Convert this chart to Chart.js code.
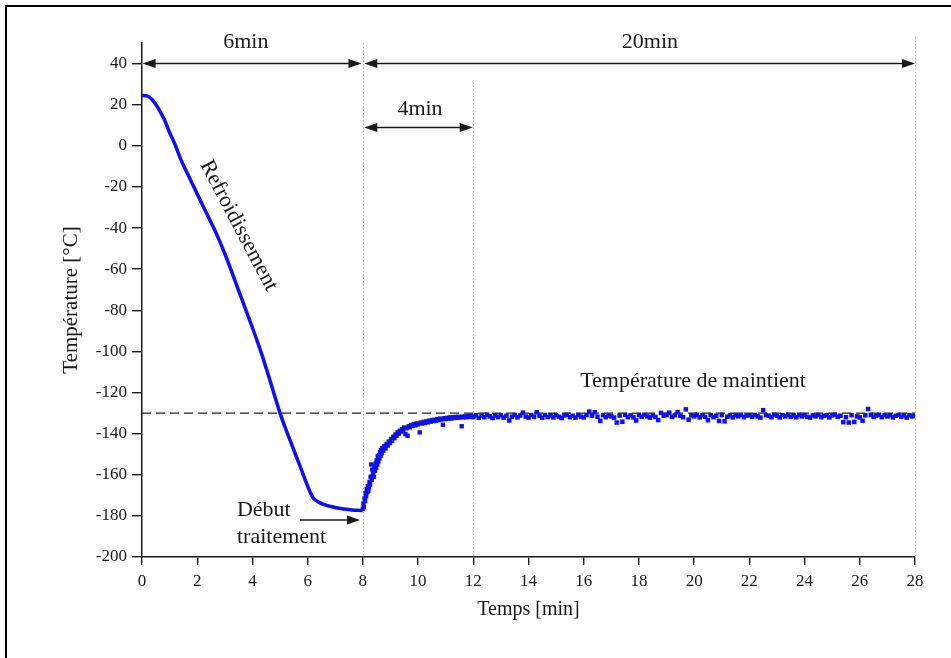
<!DOCTYPE html>
<html>
<head>
<meta charset="utf-8">
<script src="https://cdn.jsdelivr.net/npm/chart.js@4/dist/chart.umd.min.js"></script>
<style>
  html, body { margin: 0; padding: 0; background: #fff; }
  #wrap { position: relative; width: 951px; height: 658px; }
</style>
</head>
<body>
<div id="wrap"><canvas id="c" width="951" height="658"></canvas></div>
<script>
// ---- Data ----
const xTickStep = 2;
const yTickStep = 20;
const xRange = [0, 28];
const yRange = [-200, 50];
const yTickMax = 40;

// Cooling phase (continuous curve)
const coolTime = [0,0.2,0.4,0.6,0.8,1.0,1.2,1.4,1.6,1.8,2.0,2.2,2.4,2.6,2.8,3.0,3.2,3.4,3.6,3.8,4.0,4.2,4.4,4.6,4.8,5.0,5.2,5.4,5.6,5.8,6.0,6.1,6.2,6.3,6.4,6.6,6.8,7.0,7.2,7.4,7.6,7.8,8.0];
const coolTemp = [24.5,24.2,22.0,18.0,13.0,6.5,0.5,-6.5,-12.2,-17.8,-23.4,-29,-34.5,-40,-46,-52.5,-59.5,-66.8,-74,-81.3,-88.5,-96,-104,-112.5,-121.5,-130,-137.5,-144.5,-151.5,-158.5,-165.5,-168.8,-171.3,-172.5,-173.3,-174.5,-175.3,-175.9,-176.4,-176.8,-177.1,-177.3,-177.4];

// Treatment start: rise to holding temperature (scattered points)
const riseTime = [
  8.00,8.02,8.04,8.06,8.08,8.10,8.12,8.14,8.16,8.18,
  8.20,8.22,8.24,8.26,8.28,8.30,8.32,8.34,8.36,8.38,
  8.40,8.42,8.44,8.46,8.48,8.50,8.52,8.54,8.56,8.58,
  8.60,8.62,8.64,8.66,8.68,8.70,8.74,8.78,8.82,8.86,
  8.90,8.94,8.98,9.02,9.06,9.10,9.14,9.18,9.22,9.26,
  9.30,9.34,9.38,9.42,9.46,9.50,9.54,9.58,9.62,9.66,
  9.70,9.75,9.80,9.85,9.90,9.95,10.00,10.06,10.10,10.15,
  10.20,10.25,10.30,10.35,10.40,10.45,10.50,10.55,10.60,10.65,
  10.70,10.75,10.80,10.85,10.90,10.95,11.00,11.05,11.10,11.15,
  11.20,11.25,11.30,11.35,11.40,11.45,11.50,11.58,11.60,11.65,
  11.70,11.75,11.80,11.85,11.90,11.95];
const riseTemp = [
  -176.5,-174.0,-175.8,-171.5,-172.8,-169.0,-170.5,-167.0,-168.5,-165.5,
  -167.8,-166.0,-163.5,-164.8,-161.0,-155.0,-162.5,-157.5,-160.0,-158.5,
  -161.0,-156.0,-158.0,-154.5,-156.5,-153.0,-155.0,-151.0,-153.5,-150.5,
  -152.0,-149.0,-150.8,-148.0,-149.5,-147.0,-148.2,-146.0,-147.2,-145.0,
  -145.8,-143.8,-144.6,-142.6,-143.4,-141.5,-142.2,-140.4,-141.0,-139.4,
  -140.0,-138.6,-139.0,-137.8,-138.4,-137.0,-140.2,-137.4,-141.0,-136.4,
  -136.9,-135.8,-136.3,-135.4,-135.9,-135.0,-135.5,-139.4,-134.6,-135.1,
  -134.3,-134.8,-134.0,-134.5,-133.7,-134.2,-133.5,-133.9,-133.2,-133.7,
  -132.9,-133.4,-132.7,-133.1,-135.7,-132.5,-132.9,-132.3,-132.7,-132.1,
  -132.6,-132.0,-132.4,-131.9,-132.3,-131.8,-132.2,-136.4,-131.7,-132.1,
  -131.6,-132.0,-131.5,-131.9,-131.4,-131.8];

// Holding phase (scattered points)
const holdTime = [
  12.0,12.1,12.2,12.3,12.4,12.5,12.6,12.7,12.8,12.9,
  13.0,13.1,13.2,13.3,13.4,13.5,13.6,13.7,13.8,13.9,
  14.0,14.1,14.2,14.3,14.4,14.5,14.6,14.7,14.8,14.9,
  15.0,15.1,15.2,15.3,15.4,15.5,15.6,15.7,15.8,15.9,
  16.0,16.1,16.2,16.3,16.4,16.5,16.6,16.7,16.8,16.9,
  17.0,17.1,17.2,17.3,17.4,17.5,17.6,17.7,17.8,17.9,
  18.0,18.1,18.2,18.3,18.4,18.5,18.6,18.7,18.8,18.9,
  19.0,19.1,19.2,19.3,19.4,19.5,19.6,19.7,19.8,19.9,
  20.0,20.1,20.2,20.3,20.4,20.5,20.6,20.7,20.8,20.9,
  21.0,21.1,21.2,21.3,21.4,21.5,21.6,21.7,21.8,21.9,
  22.0,22.1,22.2,22.3,22.4,22.5,22.6,22.7,22.8,22.9,
  23.0,23.1,23.2,23.3,23.4,23.5,23.6,23.7,23.8,23.9,
  24.0,24.1,24.2,24.3,24.4,24.5,24.6,24.7,24.8,24.9,
  25.0,25.1,25.2,25.3,25.4,25.5,25.6,25.7,25.8,25.9,
  26.0,26.1,26.2,26.3,26.4,26.5,26.6,26.7,26.8,26.9,
  27.0,27.1,27.2,27.3,27.4,27.5,27.6,27.7,27.8,27.9,
  28.0];
const holdTemp = [
  -131.9,-131.0,-132.3,-131.2,-132.0,-130.8,-131.6,-132.4,-131.1,-131.9,
  -131.0,-132.2,-131.3,-133.6,-131.8,-130.9,-132.1,-131.2,-129.8,-131.7,
  -132.2,-131.0,-131.8,-129.6,-131.3,-132.3,-130.9,-131.9,-131.1,-132.1,
  -131.0,-131.8,-132.4,-131.1,-130.8,-132.0,-131.3,-132.2,-131.0,-131.7,
  -132.1,-130.9,-129.3,-131.3,-129.6,-131.8,-133.8,-131.0,-132.0,-131.2,
  -131.6,-132.2,-134.6,-131.2,-134.2,-130.9,-132.0,-131.1,-132.1,-133.6,
  -131.0,-131.8,-130.8,-131.6,-132.2,-131.1,-131.9,-133.4,-129.9,-131.3,
  -130.9,-129.8,-131.8,-131.0,-129.5,-131.3,-132.0,-128.2,-133.2,-131.1,
  -131.6,-130.8,-132.1,-131.1,-131.8,-133.5,-131.0,-132.0,-131.3,-133.8,
  -130.9,-134.0,-131.8,-131.1,-132.1,-131.0,-131.6,-130.8,-132.0,-131.2,
  -131.1,-131.8,-130.9,-131.6,-132.2,-128.6,-131.0,-131.3,-132.0,-130.8,
  -131.3,-132.1,-131.0,-131.6,-130.9,-131.8,-131.1,-132.0,-130.8,-131.6,
  -131.0,-131.8,-132.2,-131.1,-131.6,-130.9,-132.0,-131.3,-131.0,-132.1,
  -131.1,-130.8,-131.8,-131.3,-134.4,-132.0,-134.6,-131.0,-134.3,-131.6,
  -132.1,-133.7,-131.1,-128.0,-130.9,-131.8,-131.3,-130.8,-132.0,-131.1,
  -131.6,-131.0,-132.1,-131.3,-130.9,-131.8,-131.1,-132.2,-131.0,-131.6,
  -131.3];

// Holding temperature set point
const holdTarget = -130;

// Phase boundaries (minutes)
const phaseCoolEnd = 8;
const phaseRampEnd = 12;
const phaseEnd = 28;

const pts = (t, v) => t.map((ti, i) => ({ x: ti, y: v[i] }));

const BLUE = '#0f0fef';
const INK = '#1a1a1a';
const SERIF = "'Liberation Serif', 'Times New Roman', serif";

function arrowHead(ctx, x, y, dir) {
  const L = 13, W = 4.5;
  ctx.beginPath();
  ctx.moveTo(x, y);
  ctx.lineTo(x - dir * L, y - W);
  ctx.lineTo(x - dir * L, y + W);
  ctx.closePath();
  ctx.fill();
}
function hArrow(ctx, x1, x2, y, startHead, endHead) {
  ctx.beginPath();
  ctx.moveTo(x1 + (startHead ? 8 : 0), y);
  ctx.lineTo(x2 - (endHead ? 8 : 0), y);
  ctx.stroke();
  if (startHead) arrowHead(ctx, x1, y, -1);
  if (endHead) arrowHead(ctx, x2, y, 1);
}

const annotations = {
  id: 'annotations',
  beforeDraw(chart) {
    const ctx = chart.ctx;
    ctx.save();
    ctx.strokeStyle = '#000';
    ctx.lineWidth = 2;
    ctx.beginPath();
    ctx.moveTo(6, 660);
    ctx.lineTo(6, 6);
    ctx.lineTo(951, 6);
    ctx.stroke();
    ctx.restore();
  },
  beforeDatasetsDraw(chart) {
    const { ctx, scales: { x, y } } = chart;
    ctx.save();
    ctx.strokeStyle = '#b5b5b5';
    ctx.lineWidth = 1;
    ctx.setLineDash([1.5, 2]);
    const guides = [[phaseCoolEnd, 50], [phaseRampEnd, 31], [phaseEnd, 53]];
    for (const [gx, gy] of guides) {
      const px = Math.round(x.getPixelForValue(gx)) + 0.5;
      ctx.beginPath();
      ctx.moveTo(px, y.getPixelForValue(gy));
      ctx.lineTo(px, y.getPixelForValue(yRange[0]));
      ctx.stroke();
    }
    ctx.restore();
  },
  afterDatasetsDraw(chart) {
    const { ctx, scales: { x, y } } = chart;
    ctx.save();
    ctx.strokeStyle = INK;
    ctx.fillStyle = INK;
    ctx.lineWidth = 1.5;
    // Duration arrows
    const yTop = y.getPixelForValue(40);
    hArrow(ctx, x.getPixelForValue(0.02), x.getPixelForValue(7.95), yTop, true, true);
    hArrow(ctx, x.getPixelForValue(8.05), x.getPixelForValue(28), yTop, true, true);
    const y4 = y.getPixelForValue(8.9);
    hArrow(ctx, x.getPixelForValue(8.05), x.getPixelForValue(11.98), y4, true, true);
    const yD = y.getPixelForValue(-182);
    hArrow(ctx, x.getPixelForValue(5.72), x.getPixelForValue(7.9), yD, false, true);

    ctx.font = '22px ' + SERIF;
    ctx.textBaseline = 'middle';
    ctx.textAlign = 'center';
    ctx.fillText('6min', x.getPixelForValue(3.76), y.getPixelForValue(50.5));
    ctx.fillText('20min', x.getPixelForValue(18.4), y.getPixelForValue(50.5));
    ctx.fillText('4min', x.getPixelForValue(10.07), y.getPixelForValue(17.6));
    ctx.fillText('Température de maintient', x.getPixelForValue(19.96), y.getPixelForValue(-114.6));
    ctx.textAlign = 'left';
    ctx.fillText('Début', x.getPixelForValue(3.44), y.getPixelForValue(-177.2));
    ctx.fillText('traitement', x.getPixelForValue(3.44), y.getPixelForValue(-190.4));

    ctx.save();
    ctx.translate(x.getPixelForValue(3.5), y.getPixelForValue(-38.8));
    ctx.rotate(62.2 * Math.PI / 180);
    ctx.textAlign = 'center';
    ctx.fillText('Refroidissement', 0, 0);
    ctx.restore();

    ctx.restore();
  }
};

new Chart(document.getElementById('c'), {
  type: 'scatter',
  data: {
    datasets: [
      {
        label: 'Consigne',
        data: [{ x: xRange[0], y: holdTarget }, { x: xRange[1], y: holdTarget }],
        showLine: true,
        borderColor: '#222',
        borderWidth: 1.4,
        borderDash: [9, 5],
        pointRadius: 0,
        order: 5
      },
      {
        label: 'Refroidissement',
        data: pts(coolTime, coolTemp),
        showLine: true,
        borderColor: BLUE,
        borderWidth: 3.5,
        cubicInterpolationMode: 'monotone',
        pointRadius: 0,
        order: 1
      },
      {
        label: 'Montée',
        data: pts(riseTime, riseTemp),
        showLine: false,
        pointStyle: 'rect',
        pointRadius: 3.1,
        backgroundColor: BLUE,
        borderColor: BLUE,
        borderWidth: 0,
        order: 0
      },
      {
        label: 'Maintien',
        data: pts(holdTime, holdTemp),
        showLine: false,
        pointStyle: 'rect',
        pointRadius: 3.2,
        backgroundColor: BLUE,
        borderColor: BLUE,
        borderWidth: 0,
        order: 0
      }
    ]
  },
  options: {
    responsive: false,
    animation: false,
    devicePixelRatio: 1,
    layout: { padding: { left: 0, top: 43, right: 36, bottom: 0 } },
    plugins: { legend: { display: false }, tooltip: { enabled: false } },
    scales: {
      x: {
        type: 'linear',
        min: xRange[0],
        max: xRange[1],
        afterFit(s) { s.height = 101; },
        ticks: {
          stepSize: xTickStep,
          color: INK,
          padding: 6,
          maxRotation: 0,
          font: { family: SERIF, size: 17 }
        },
        grid: { display: true, drawOnChartArea: false, drawTicks: true, tickLength: 8, color: INK, lineWidth: 1.4 },
        border: { display: true, color: INK, width: 1.5 },
        title: {
          display: true,
          text: 'Temps [min]',
          color: INK,
          font: { family: SERIF, size: 20 },
          padding: { top: 0, bottom: 36 }
        }
      },
      y: {
        type: 'linear',
        min: yRange[0],
        max: yRange[1],
        afterFit(s) { s.width = 142; },
        afterBuildTicks(s) { s.ticks = s.ticks.filter(t => t.value <= yTickMax); },
        ticks: {
          stepSize: yTickStep,
          color: INK,
          padding: 5,
          font: { family: SERIF, size: 17 }
        },
        grid: { display: true, drawOnChartArea: false, drawTicks: true, tickLength: 10, color: INK, lineWidth: 1.4 },
        border: { display: true, color: INK, width: 1.5 },
        title: {
          display: true,
          text: 'Température [°C]',
          color: INK,
          font: { family: SERIF, size: 21 },
          padding: { top: 59, bottom: 0 }
        }
      }
    }
  },
  plugins: [annotations]
});
</script>
</body>
</html>
